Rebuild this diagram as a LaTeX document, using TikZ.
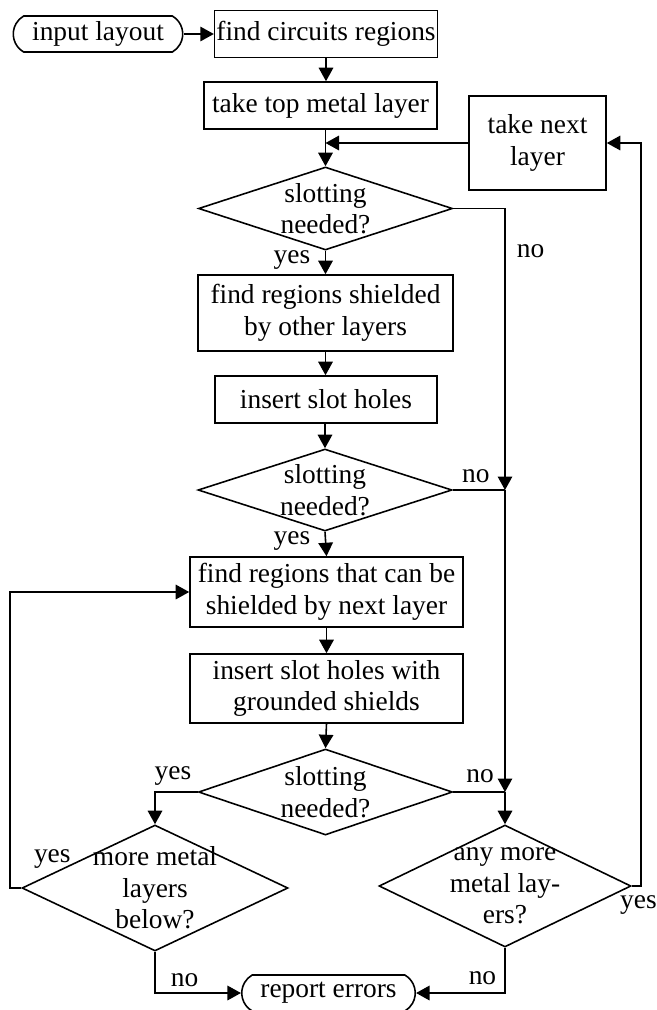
\documentclass[tikz,border=0pt]{standalone}
\usepackage{fontspec}
\setmainfont{Liberation Serif}
\usetikzlibrary{shapes.geometric,shapes.misc,arrows.meta,calc,positioning}

\begin{document}
\begin{tikzpicture}[line width=0.9pt, >={Triangle[length=0.27cm,width=0.29cm]},
    every node/.style={font=\fontsize{15.6}{18}\selectfont},
    proc/.style={rectangle,draw,align=center,inner sep=1pt},
    term/.style={rounded rectangle,rounded rectangle arc length=120,draw,inner sep=1pt,minimum height=0.72cm},
    decision/.style={diamond,draw,inner sep=0pt},
    dtext/.style={align=center,inner sep=0pt},
    lbl/.style={inner sep=2pt}]
   \useasboundingbox (0,0) rectangle (13.12,-20.2);
   % start and end
   \node (input) [term, minimum width=3.46cm] at (1.96,-0.68) {input layout};
   \node (report) [term, minimum width=3.54cm] at (6.57,-19.86) {report errors};
   % process boxes
   \begin{scope}[every node/.append style={proc}]
    \node (find) [minimum width=4.44cm, minimum height=0.94cm] at (6.52,-0.68) {find circuits regions};
    \node (top) [minimum width=4.66cm, minimum height=0.94cm] at (6.41,-2.11) {take top metal layer};
    \node (next) [minimum width=2.74cm, minimum height=1.88cm] at (10.75,-2.86) {take next\\layer};
    \node (shield) [minimum width=5.10cm, minimum height=1.52cm] at (6.51,-6.26) {find regions shielded\\by other layers};
    \node (slot) [minimum width=4.44cm, minimum height=0.94cm] at (6.52,-7.99) {insert slot holes};
    \node (nextshield) [minimum width=5.46cm, minimum height=1.40cm] at (6.53,-11.84) {find regions that can be\\shielded by next layer};
    \node (ground) [minimum width=5.46cm, minimum height=1.38cm] at (6.53,-13.77) {insert slot holes with\\grounded shields};
   \end{scope}
   % decisions
   \begin{scope}[every node/.append style={decision}]
    \node (d1) [minimum width=5.08cm, minimum height=1.66cm, label={[dtext]center:{slotting\\needed?}}] at (6.51,-4.17) {};
    \node (d2) [minimum width=5.08cm, minimum height=1.64cm, label={[dtext]center:{slotting\\needed?}}] at (6.50,-9.80) {};
    \node (d3) [minimum width=5.08cm, minimum height=1.72cm, label={[dtext]center:{slotting\\needed?}}] at (6.51,-15.84) {};
    \node (d4) [minimum width=5.04cm, minimum height=2.44cm, label={[dtext]center:{any more\\metal lay-\\ers?}}] at (10.10,-17.72) {};
    \node (d5) [minimum width=5.32cm, minimum height=2.52cm, label={[dtext]center:{more metal\\layers\\below?}}] at (3.10,-17.76) {};
   \end{scope}
   \coordinate (j1) at (d4.north |- d2.east);
   \coordinate (j2) at (d4.north |- d3.east);
   \coordinate (lloop) at (0.2,0);
   \coordinate (rloop) at (12.82,0);
   % main flow
   \begin{scope}[->]
    \draw (input.east) -- (input.east -| find.west);
    \draw (find.south) -- (find.south |- top.north);
    \draw (d1.north |- top.south) -- (d1.north);
    \draw (next.west) -- (d1.north |- next.west);
    \draw (d1.south) -- node[lbl, left=0.22cm, pos=0.4]{yes} (shield.north);
    \draw (shield.south) -- (shield.south |- slot.north);
    \draw (slot.south) -- (slot.south -| d2.north) -- (d2.north);
    \draw (d2.south) -- node[lbl, left=0.22cm, pos=0.38]{yes} (nextshield.north);
    \draw (nextshield.south) -- (ground.north);
    \draw (ground.south) -- (d3.north);
    % no branches to the layer check
    \draw (d1.east) -| node[lbl, right=0.15cm, pos=0.575]{no} (j1);
    \draw[-] (d2.east) -- node[lbl, above=0.05cm, pos=0.44]{no} (j1);
    \draw (j1) -- (j2);
    \draw[-] (d3.east) -- node[lbl, above=0.1cm, pos=0.52]{no} (j2);
    \draw (j2) -- (d4.north);
    % loops
    \draw (d3.west) -| node[lbl, above=0.05cm, pos=0.29]{yes} (d5.north);
    \draw (d5.west) node[lbl, above right=0.31cm and 0.17cm]{yes} -- (d5.west -| lloop) |- (nextshield.west);
    \draw (d4.east) -- (d4.east -| rloop) node[lbl, below=0.1cm, xshift=-0.05cm]{yes} |- (next.east);
    \draw (d5.south) |- node[lbl, right=0.23cm, pos=0.34]{no} (report.west);
    \draw (d4.south) |- node[lbl, left=0.09cm, pos=0.34]{no} (report.east);
   \end{scope}
\end{tikzpicture}
\end{document}
